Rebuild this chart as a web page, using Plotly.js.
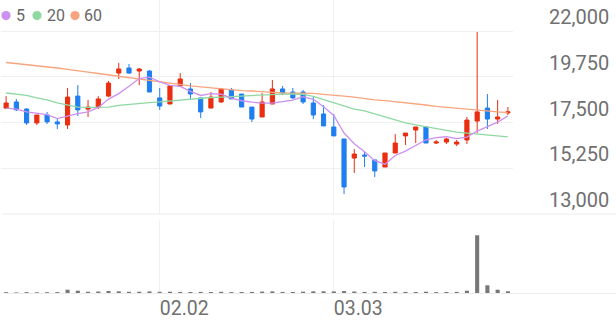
<!DOCTYPE html>
<html>
<head>
<meta charset="utf-8">
<script src="https://cdn.plot.ly/plotly-3.0.1.min.js"></script>
<style>
  html, body { margin: 0; padding: 0; background: #ffffff; }
  #chart { width: 616px; height: 321px; }
</style>
</head>
<body>
<div id="chart"></div>
<script>
// ---- data ----
const dates = ['01.12','01.13','01.14','01.15','01.16','01.19','01.20','01.21','01.22','01.23',
  '01.26','01.27','01.28','01.29','01.30','02.02','02.03','02.04','02.05','02.06',
  '02.09','02.10','02.11','02.12','02.13','02.19','02.20','02.23','02.24','02.25',
  '02.26','02.27','03.03','03.04','03.05','03.06','03.09','03.10','03.11','03.12',
  '03.13','03.16','03.17','03.18','03.19','03.20','03.23','03.24','03.25','03.26'];

const openP = [18210,18510,18160,17480,17870,17530,17380,18800,18160,18260,
  18800,19930,20180,20030,20030,18710,18410,19300,19150,18710,
  18210,18510,19100,18900,18260,17770,18410,19150,19000,19000,
  18460,17920,17280,16690,15750,15900,15660,15310,16000,16840,
  17130,17280,16490,16540,16440,16640,17570,18210,17670,17970];
const highP = [18800,18660,18210,17870,18020,17720,19200,19340,18610,18800,
  19540,20430,20380,20180,20080,19200,19300,19930,19440,18710,
  19000,19200,19200,18900,18260,18950,19590,19300,19200,19100,
  18750,18360,17920,16690,16200,16050,15660,16000,16930,16980,
  17280,17280,16640,16740,16640,17770,21950,18900,18610,18260];
const lowP = [18160,18070,17380,17380,17430,17180,17180,17820,17770,18160,
  18750,19640,19890,19340,19000,18120,18410,19300,18660,17720,
  18210,18460,18660,18260,17520,17770,18410,18850,18660,18410,
  17670,17330,16840,13980,15020,15310,14820,15310,16000,16390,
  16490,16490,16440,16440,16340,16440,16980,17180,17430,17870];
const closeP = [18460,18120,17480,17870,17530,17430,18750,18120,18260,18660,
  19440,20130,19930,20130,19000,18310,19300,19640,18900,18020,
  18750,19150,18660,18260,17670,18510,19150,18950,18710,18510,
  17870,17330,16840,14330,15950,15850,15120,16000,16490,16980,
  17280,16490,16540,16690,16540,17620,18020,17670,17770,18020];

const ma5 = [18210,18160,18020,17970,17890,17690,17810,17940,18020,18240,
  18650,18920,19280,19660,19730,19500,19330,19280,19030,18830,
  18920,18890,18700,18570,18500,18450,18450,18510,18600,18770,
  18640,18270,17850,16980,16460,16060,15620,15450,15880,16090,
  16370,16650,16760,16800,16710,16780,17080,17310,17520,17820];
const ma20 = [18950,18900,18830,18710,18610,18460,18360,18260,18240,18240,
  18260,18340,18390,18460,18480,18510,18560,18610,18660,18680,
  18730,18750,18780,18800,18830,18850,18880,18900,18900,18880,
  18780,18630,18480,18310,18160,18070,17920,17770,17620,17480,
  17380,17280,17180,17110,17030,16980,16910,16860,16810,16790];
const ma60 = [20450,20400,20330,20280,20230,20180,20110,20060,19980,19910,
  19840,19760,19710,19640,19570,19490,19440,19370,19300,19250,
  19200,19150,19120,19070,19050,19000,18980,18950,18950,18950,
  18930,18880,18850,18800,18750,18680,18610,18580,18530,18480,
  18410,18360,18290,18240,18190,18140,18090,18040,18020,17990];

const volume = [80,60,90,70,80,90,330,230,120,150,
  200,170,120,130,160,120,130,110,100,110,
  100,120,90,100,110,140,160,110,100,130,
  170,170,160,190,150,110,120,100,120,110,
  100,130,90,100,110,230,5770,770,330,170];

const priceTicks = [13000,15250,17500,19750,22000];
const priceTickText = ['13,000','15,250','17,500','19,750','22,000'];
const dateTicks = ['02.02','03.03'];
const legendNames = ['5','20','60'];

// ---- styles ----
const C_UP = '#ea2e10', C_DN = '#1f7ef0';
const C_MA = ['#cc90f0','#8fd8a2','#f8a47e'];
const GRID = '#f0f0f0';
const TXT = '#707070';

const H = 321, PLOT_B = 293, L = 1, PW = 512;
const py = p => (PLOT_B - p) / PLOT_B;    // pixel y -> paper
const px = p => (p - L) / PW;             // pixel x -> paper

const traces = [
  {type:'scatter', mode:'lines', x:dates, y:ma60, line:{color:C_MA[2], width:1.3}, hoverinfo:'skip', showlegend:false},
  {type:'scatter', mode:'lines', x:dates, y:ma20, line:{color:C_MA[1], width:1.3}, hoverinfo:'skip', showlegend:false},
  {type:'scatter', mode:'lines', x:dates, y:ma5, line:{color:C_MA[0], width:1.3}, hoverinfo:'skip', showlegend:false},
  {type:'candlestick', x:dates, open:openP, high:highP, low:lowP, close:closeP,
   increasing:{line:{color:C_UP, width:1}, fillcolor:C_UP},
   decreasing:{line:{color:C_DN, width:1}, fillcolor:C_DN},
   whiskerwidth:0, hoverinfo:'skip', showlegend:false},
  {type:'bar', x:dates, y:volume, yaxis:'y2', marker:{color:'#777777'}, hoverinfo:'skip', showlegend:false}
];

const dotX = [6, 37, 75], textX = [14.5, 46, 82.5];
const shapes = [
  {type:'line', xref:'paper', yref:'paper', x0:px(3), x1:px(616), y0:py(214), y1:py(214), line:{color:'#ececec', width:1}},
  {type:'line', xref:'paper', yref:'paper', x0:px(3), x1:px(616), y0:py(293.5), y1:py(293.5), line:{color:'#ececec', width:1}}
];
dotX.forEach((cx, i) => shapes.push({type:'circle', xref:'paper', yref:'paper',
  x0:px(cx-4.6), x1:px(cx+4.6), y0:py(15.6+4.6), y1:py(15.6-4.6),
  fillcolor:C_MA[i], line:{width:0}}));

const annotations = legendNames.map((t, i) => ({
  xref:'paper', yref:'paper', x:px(textX[i]), y:py(15.5), xanchor:'left', yanchor:'middle',
  text:t, showarrow:false, font:{family:'Roboto', size:16, color:'#666666'}, borderpad:0
}));

const layout = {
  width:616, height:H,
  margin:{l:L, r:616-L-PW, t:0, b:H-PLOT_B, pad:0},
  paper_bgcolor:'#ffffff', plot_bgcolor:'#ffffff',
  showlegend:false, boxgap:0.42, bargap:0.6,
  font:{family:'Roboto', color:TXT},
  xaxis:{type:'category', categoryorder:'array', categoryarray:dates,
    range:[-0.5, dates.length-0.5], anchor:'y2',
    tickmode:'array', tickvals:dateTicks, ticktext:dateTicks,
    showgrid:true, gridcolor:GRID, gridwidth:1, zeroline:false, showline:false,
    ticks:'', ticklabelposition:'outside right', ticklabelstandoff:1,
    tickfont:{family:'Roboto', size:19.5, color:TXT},
    rangeslider:{visible:false}, fixedrange:true},
  yaxis:{domain:[py(214), 1], range:[13000, 22000 + 31*9000/183], side:'right',
    tickmode:'array', tickvals:priceTicks, ticktext:priceTickText,
    showgrid:true, gridcolor:GRID, gridwidth:1, zeroline:false, showline:false, ticks:'',
    ticklabelshift:-14, ticklabelstandoff:35,
    tickfont:{family:'Roboto', size:20, color:TXT}, fixedrange:true},
  yaxis2:{domain:[0, py(220)], range:[0, 7300], showgrid:false, zeroline:false,
    showticklabels:false, ticks:'', showline:false, fixedrange:true},
  shapes:shapes,
  annotations:annotations
};

Plotly.newPlot('chart', traces, layout, {staticPlot:true, displayModeBar:false});
</script>
</body>
</html>
